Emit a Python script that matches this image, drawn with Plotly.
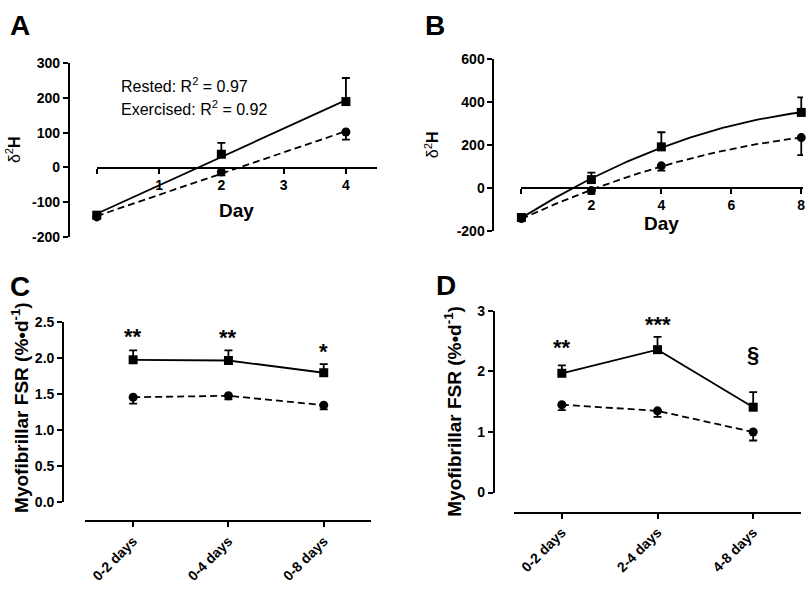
import numpy as np
import plotly.graph_objects as go

W, H = 810, 594

# ---------------- data ----------------
days_A = [0, 2, 4]
sq_A = [-138, 38, 190]
sq_A_err = [0, 33, 68]
ci_A = [-143, -13, 102]
ci_A_err = [0, 10, 22]

days_B = [0, 2, 4, 8]
sq_B = [-138, 38, 190, 350]
sq_B_err = [0, 32, 68, 70]
ci_B = [-143, -13, 102, 233]
ci_B_err = [0, 15, 22, 81]

yticks_A = [-200, -100, 0, 100, 200, 300]
yticks_B = [-200, 0, 200, 400, 600]
xticks_A = [0, 1, 2, 3, 4]
xticks_B = [0, 2, 4, 6, 8]

cats_C = ["0-2 days", "0-4 days", "0-8 days"]
sq_C = [1.97, 1.96, 1.79]
sq_C_err = [0.13, 0.14, 0.12]
ci_C = [1.45, 1.47, 1.34]
ci_C_err = [0.09, 0.05, 0.06]
sig_C = ["**", "**", "*"]
sig_C_y = [2.30, 2.28, 2.08]

cats_D = ["0-2 days", "2-4 days", "4-8 days"]
sq_D = [1.97, 2.36, 1.41]
sq_D_err = [0.13, 0.21, 0.25]
ci_D = [1.45, 1.35, 1.00]
ci_D_err = [0.09, 0.10, 0.14]
sig_D = ["**", "***", "§"]
sig_D_y = [2.40, 2.78, 2.28]

r2_text = ["Rested: R<sup>2</sup> = 0.97", "Exercised: R<sup>2</sup> = 0.92"]

FONT = "Liberation Sans, Arial, sans-serif"
BLK = "black"


def px_x(p):
    return p / W


def px_y(p):
    return 1 - p / H


def lab(v, hide_zero=False):
    if hide_zero and v == 0:
        return ""
    return str(v)


fig = go.Figure()


def add_pair(xa, ya, x, sq, sqe, ci, cie, lines=True):
    common = dict(xaxis=xa, yaxis=ya, cliponaxis=False, showlegend=False)
    fig.add_trace(go.Scatter(
        x=x, y=sq, mode="lines+markers" if lines else "markers",
        line=dict(color=BLK, width=1.8),
        marker=dict(symbol="square", size=9, color=BLK),
        error_y=dict(type="data", symmetric=False, array=sqe,
                     arrayminus=[0] * len(sqe), color=BLK, thickness=1.8, width=4),
        **common))
    fig.add_trace(go.Scatter(
        x=x, y=ci, mode="lines+markers" if lines else "markers",
        line=dict(color=BLK, width=1.8, dash="7px,4px"),
        marker=dict(symbol="circle", size=9, color=BLK),
        error_y=dict(type="data", symmetric=False, array=[0] * len(cie),
                     arrayminus=cie, color=BLK, thickness=1.8, width=4),
        **common))


# Panel A: linear fits
add_pair("x", "y", days_A, sq_A, sq_A_err, ci_A, ci_A_err, lines=False)
for vals, dash in [(sq_A, None), (ci_A, "7px,4px")]:
    c = np.polyfit(days_A, vals, 1)
    xf = np.array([0, 4])
    fig.add_trace(go.Scatter(x=xf, y=np.polyval(c, xf), mode="lines",
                             line=dict(color=BLK, width=1.8, dash=dash),
                             xaxis="x", yaxis="y", cliponaxis=False, showlegend=False))

# Panel B: quadratic fits
add_pair("x2", "y2", days_B, sq_B, sq_B_err, ci_B, ci_B_err, lines=False)
for vals, dash in [(sq_B, None), (ci_B, "7px,4px")]:
    c = np.polyfit(days_B, vals, 2)
    xf = np.linspace(0, 8, 80)
    fig.add_trace(go.Scatter(x=xf, y=np.polyval(c, xf), mode="lines",
                             line=dict(color=BLK, width=1.8, dash=dash),
                             xaxis="x2", yaxis="y2", cliponaxis=False, showlegend=False))

# Panel C and D
add_pair("x3", "y3", cats_C, sq_C, sq_C_err, ci_C, ci_C_err)
add_pair("x4", "y4", cats_D, sq_D, sq_D_err, ci_D, ci_D_err)

tickfont = dict(family=FONT, size=14, color=BLK, weight="bold")
axcommon = dict(showgrid=False, zeroline=False, showline=True, linecolor=BLK,
                linewidth=2, ticks="outside", ticklen=5, tickwidth=2, tickcolor=BLK,
                tickfont=tickfont, anchor="free")

fig.update_layout(
    xaxis=dict(domain=[px_x(97), px_x(378)], range=[0, 4.5],
               tickvals=xticks_A, ticktext=[lab(v, True) for v in xticks_A],
               position=px_y(164), **axcommon),
    yaxis=dict(domain=[px_y(235), px_y(57)], range=[-200, 300],
               tickvals=yticks_A, ticktext=[lab(v) for v in yticks_A],
               position=px_x(69), **axcommon),
    xaxis2=dict(domain=[px_x(522.7), px_x(805)], range=[0, 8.05],
                tickvals=xticks_B, ticktext=[lab(v, True) for v in xticks_B],
                position=px_y(184.5), **axcommon),
    yaxis2=dict(domain=[px_y(229), px_y(52)], range=[-200, 600],
                tickvals=yticks_B, ticktext=[lab(v) for v in yticks_B],
                position=px_x(494.7), **axcommon),
    xaxis3=dict(domain=[px_x(85.7), px_x(372.3)], range=[-0.5, 2.5], type="category",
                tickangle=-45, position=px_y(527.7), **axcommon),
    yaxis3=dict(domain=[px_y(507.3), px_y(322.3)], range=[0, 2.5],
                tickvals=[0, 0.5, 1.0, 1.5, 2.0, 2.5], tickformat=".1f",
                position=px_x(63.3), **axcommon),
    xaxis4=dict(domain=[px_x(515.3), px_x(803)], range=[-0.5, 2.5], type="category",
                tickangle=-45, position=px_y(518.7), **axcommon),
    yaxis4=dict(domain=[px_y(498), px_y(311.3)], range=[0, 3],
                tickvals=[0, 1, 2, 3], position=px_x(495), **axcommon),
)

anns = []


def pann(text, x, y, size, angle=0, xanchor="center"):
    anns.append(dict(text=text, x=px_x(x), y=px_y(y), xref="paper", yref="paper",
                     xanchor=xanchor, yanchor="middle", showarrow=False, textangle=angle,
                     font=dict(family=FONT, size=size, color=BLK)))


for txt, x, y in [("A", 20, 18), ("B", 436, 18), ("C", 20, 286), ("D", 447, 285)]:
    pann(f"<b>{txt}</b>", x, y, 28)
for x, y in [(237, 208), (663, 221)]:
    pann("<b>Day</b>", x, y, 19)
for x, y in [(13, 145), (433, 140)]:
    pann("δ<sup>2</sup><b>H</b>", x, y, 16, angle=-90)
for x, y in [(20, 410), (454, 414)]:
    pann("<b>Myofibrillar FSR (%•d<sup>-1</sup>)</b>", x, y, 19, angle=-90)
for t, y in zip(r2_text, [79, 103]):
    pann(t, 119, y, 16, xanchor="left")

for c, s, y in zip(cats_C, sig_C, sig_C_y):
    anns.append(dict(text=f"<b>{s}</b>", x=c, y=y, xref="x3", yref="y3", showarrow=False,
                     font=dict(family=FONT, size=22, color=BLK)))
for c, s, y in zip(cats_D, sig_D, sig_D_y):
    anns.append(dict(text=f"<b>{s}</b>", x=c, y=y, xref="x4", yref="y4", showarrow=False,
                     font=dict(family=FONT, size=22, color=BLK)))

fig.update_layout(width=W, height=H, margin=dict(l=0, r=0, t=0, b=0),
                  paper_bgcolor="white", plot_bgcolor="white", annotations=anns,
                  font=dict(family=FONT, color=BLK))

fig.write_html("out.html", config={"displayModeBar": False},
               post_script="document.body.style.margin='0';document.body.style.overflow='hidden';")
